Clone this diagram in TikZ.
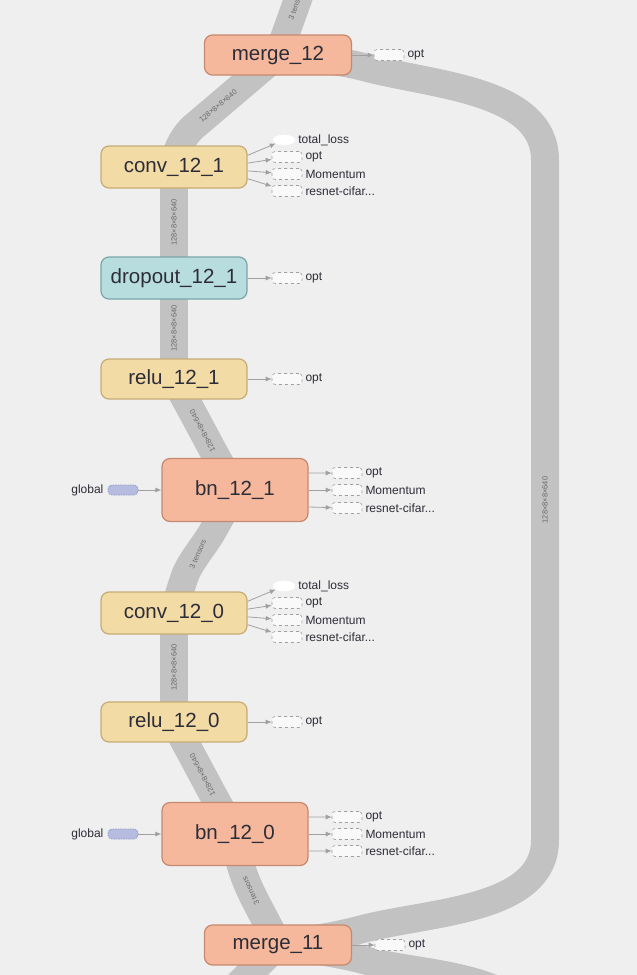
\documentclass[tikz,border=0pt]{standalone}
\usepackage{fontspec}
\setmainfont{Liberation Sans}
\usetikzlibrary{arrows.meta,shapes.geometric,calc}

\pgfdeclarelayer{back}
\pgfdeclarelayer{flows}
\pgfsetlayers{back,flows,main}

\definecolor{canvasgray}{RGB}{239,239,239}
\definecolor{flowgray}{RGB}{194,194,194}
\definecolor{flowtext}{RGB}{105,105,105}
\definecolor{mergefill}{RGB}{245,184,156}
\definecolor{mergeline}{RGB}{196,137,110}
\definecolor{convfill}{RGB}{243,219,166}
\definecolor{convline}{RGB}{197,172,118}
\definecolor{dropfill}{RGB}{184,221,222}
\definecolor{dropline}{RGB}{122,166,168}
\definecolor{ctrlline}{RGB}{160,160,160}
\definecolor{globfill}{RGB}{182,188,224}
\definecolor{globline}{RGB}{146,154,204}
\definecolor{labeltext}{RGB}{45,45,55}

\tikzset{
  op/.style={rounded corners=8pt, line width=1.2pt, minimum width=146pt,
    minimum height=42pt, inner sep=0pt, text=labeltext,
    font=\fontsize{20.5}{24}\selectfont},
  mergeop/.style={op, fill=mergefill, draw=mergeline, minimum height=40pt, minimum width=147pt},
  bnop/.style={op, fill=mergefill, draw=mergeline, minimum height=63pt},
  convop/.style={op, fill=convfill, draw=convline},
  dropop/.style={op, fill=dropfill, draw=dropline},
  dataflow/.style={draw=flowgray, line width=28pt, rounded corners=20pt},
  flowlabel/.style={font=\fontsize{7.5}{8}\selectfont, text=flowtext, inner sep=0pt},
  ctrlbox/.style={draw=ctrlline, dashed, fill=canvasgray!40!white, rounded corners=3pt,
    line width=0.6pt, minimum width=30pt, minimum height=11pt, inner sep=0pt},
  lossbox/.style={ellipse, draw=white, fill=white, minimum width=22pt,
    minimum height=10pt, inner sep=0pt},
  globbox/.style={draw=globline, fill=globfill, dash pattern=on 1.5pt off 1pt,
    rounded corners=4pt, line width=0.8pt, minimum width=30pt, minimum height=10pt,
    inner sep=0pt},
  ctrltext/.style={font=\fontsize{12}{13}\selectfont, text=labeltext, inner sep=0pt, xshift=3pt},
  globtext/.style={font=\fontsize{12}{13}\selectfont, text=labeltext, inner sep=0pt, xshift=-4pt},
  ctrlarrow/.style={-{Latex[length=6pt,width=5pt]}, draw=ctrlline, line width=0.8pt},
}

\begin{document}
\begin{tikzpicture}[x=1pt,y=-1pt]
  \useasboundingbox (0,0) rectangle (637,975);
  \begin{pgfonlayer}{back}
    \fill[canvasgray] (0,0) rectangle (637,975);
  \end{pgfonlayer}

  % ops of block 12
  \node[mergeop] (merge12) at (278,55) {merge\_12};
  \node[convop] (conv121) at (174,167) {conv\_12\_1};
  \node[dropop] (dropout121) at (174,278) {dropout\_12\_1};
  \node[convop, minimum height=40pt] (relu121) at (174,379) {relu\_12\_1};
  \node[bnop] (bn121) at (235,490) {bn\_12\_1};
  \node[convop] (conv120) at (174,613) {conv\_12\_0};
  \node[convop, minimum height=40pt] (relu120) at (174,722) {relu\_12\_0};
  \node[bnop] (bn120) at (235,834) {bn\_12\_0};
  \node[mergeop] (merge11) at (278,945) {merge\_11};

  % control dependencies
  \node[ctrlbox, label={[ctrltext]right:opt}] (merge12-opt) at (389,55) {};
  \draw[ctrlarrow] (merge12) -- (merge12-opt);

  \node[lossbox, label={[ctrltext]right:total\_loss}] (conv121-loss) at (284,140) {};
  \node[ctrlbox, label={[ctrltext]right:opt}] (conv121-opt) at (287,157) {};
  \node[ctrlbox, label={[ctrltext]right:Momentum}] (conv121-mom) at (287,174) {};
  \node[ctrlbox, label={[ctrltext]right:resnet-cifar...}] (conv121-res) at (287,191) {};
  \draw[ctrlarrow] (conv121.9) -- (conv121-loss);
  \draw[ctrlarrow] (conv121.3) -- (conv121-opt);
  \draw[ctrlarrow] (conv121.-3) -- (conv121-mom);
  \draw[ctrlarrow] (conv121.-9) -- (conv121-res);

  \node[ctrlbox, label={[ctrltext]right:opt}] (dropout121-opt) at (287,278) {};
  \draw[ctrlarrow] (dropout121) -- (dropout121-opt);
  \node[ctrlbox, label={[ctrltext]right:opt}] (relu121-opt) at (287,379) {};
  \draw[ctrlarrow] (relu121) -- (relu121-opt);

  \node[ctrlbox, label={[ctrltext]right:opt}] (bn121-opt) at (347,473) {};
  \node[ctrlbox, label={[ctrltext]right:Momentum}] (bn121-mom) at (347,490) {};
  \node[ctrlbox, label={[ctrltext]right:resnet-cifar...}] (bn121-res) at (347,508) {};
  \draw[ctrlarrow] (bn121.13) -- (bn121-opt);
  \draw[ctrlarrow] (bn121) -- (bn121-mom);
  \draw[ctrlarrow] (bn121.-13) -- (bn121-res);
  \node[globbox, label={[globtext]left:global}] (glob121) at (123,490) {};
  \draw[ctrlarrow] (glob121) -- (bn121);

  \node[lossbox, label={[ctrltext]right:total\_loss}] (conv120-loss) at (284,586) {};
  \node[ctrlbox, label={[ctrltext]right:opt}] (conv120-opt) at (287,603) {};
  \node[ctrlbox, label={[ctrltext]right:Momentum}] (conv120-mom) at (287,620) {};
  \node[ctrlbox, label={[ctrltext]right:resnet-cifar...}] (conv120-res) at (287,637) {};
  \draw[ctrlarrow] (conv120.9) -- (conv120-loss);
  \draw[ctrlarrow] (conv120.3) -- (conv120-opt);
  \draw[ctrlarrow] (conv120.-3) -- (conv120-mom);
  \draw[ctrlarrow] (conv120.-9) -- (conv120-res);

  \node[ctrlbox, label={[ctrltext]right:opt}] (relu120-opt) at (287,722) {};
  \draw[ctrlarrow] (relu120) -- (relu120-opt);

  \node[ctrlbox, label={[ctrltext]right:opt}] (bn120-opt) at (347,817) {};
  \node[ctrlbox, label={[ctrltext]right:Momentum}] (bn120-mom) at (347,834) {};
  \node[ctrlbox, label={[ctrltext]right:resnet-cifar...}] (bn120-res) at (347,851) {};
  \draw[ctrlarrow] (bn120.13) -- (bn120-opt);
  \draw[ctrlarrow] (bn120) -- (bn120-mom);
  \draw[ctrlarrow] (bn120.-13) -- (bn120-res);
  \node[globbox, label={[globtext]left:global}] (glob120) at (123,834) {};
  \draw[ctrlarrow] (glob120) -- (bn120);

  \node[ctrlbox, label={[ctrltext]right:opt}] (merge11-opt) at (390,945) {};
  \draw[ctrlarrow] (merge11) -- (merge11-opt);

  % data flow
  \coordinate (to-top) at (302,-12);
  \coordinate (from-left) at (228,995);
  \coordinate (from-right) at (545,1060);
  \begin{pgfonlayer}{flows}
    \draw[dataflow] (merge12.center) -- (to-top)
      node[flowlabel, pos=0.75, rotate=70] {3 tensors};
    \draw[dataflow] (conv121.center) -- (178,140) --
      node[flowlabel, pos=0.4, rotate=40] {128×8×8×640} (merge12.center);
    \draw[dataflow] (dropout121.center) --
      node[flowlabel, rotate=90] {128×8×8×640} (conv121.center);
    \draw[dataflow] (relu121.center) --
      node[flowlabel, rotate=90] {128×8×8×640} (dropout121.center);
    \draw[dataflow] (bn121.center) -- (218,460) --
      node[flowlabel, rotate=118] {128×8×8×640} (187,402) -- (relu121.center);
    \draw[dataflow] (conv120.center) -- (178,595) to[out=70,in=-120]
      node[flowlabel, rotate=66] {3 tensors} (222,515) -- (bn121.center);
    \draw[dataflow] (relu120.center) --
      node[flowlabel, rotate=90] {128×8×8×640} (conv120.center);
    \draw[dataflow] (bn120.center) -- (218,804) --
      node[flowlabel, rotate=118] {128×8×8×640} (187,746) -- (relu120.center);
    \draw[dataflow] (merge11.center) to[out=115,in=-85]
      node[flowlabel, rotate=115] {3 tensors} (bn120.center);
    \draw[dataflow] (merge11.center) -- (340,935) to[out=15,in=-90] (545,820) --
      node[flowlabel, rotate=90] {128×8×8×640} (545,180)
      to[out=90,in=-15] (345,62) -- (merge12.center);
    \draw[dataflow] (from-left) -- (merge11.center);
    \draw[dataflow] (from-right) to[out=90,in=-15] (345,955) -- (merge11.center);
  \end{pgfonlayer}
\end{tikzpicture}
\end{document}
